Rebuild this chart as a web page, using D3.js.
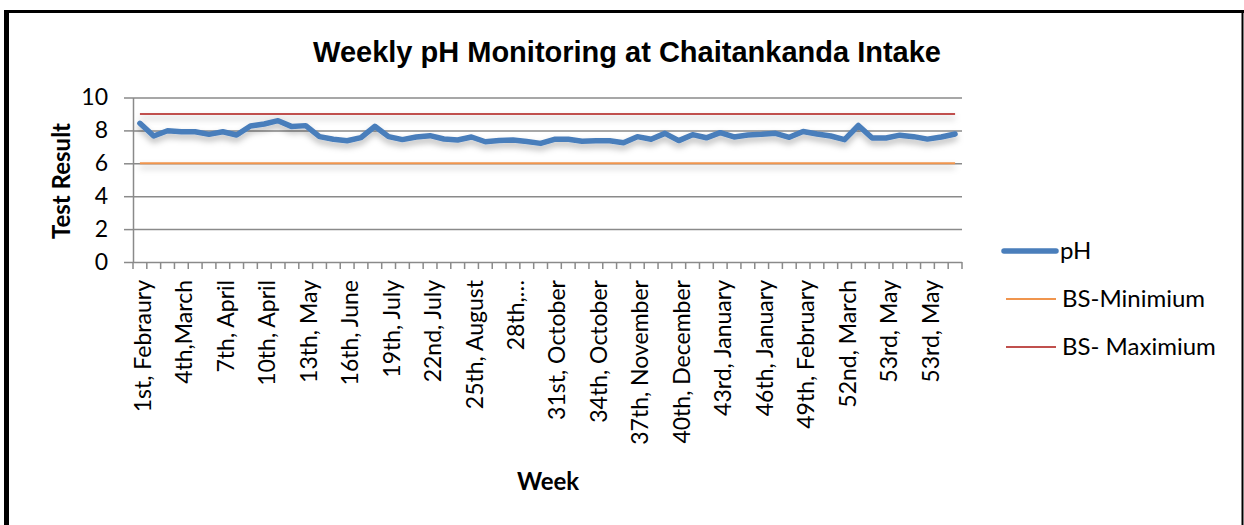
<!DOCTYPE html>
<html>
<head>
<meta charset="utf-8">
<script src="https://cdn.jsdelivr.net/npm/d3@7"></script>
<style>
  body { margin: 0; background: #fff; }
  svg { display: block; }
  text { font-family: Lato, "Liberation Sans", sans-serif; fill: #000; }
</style>
</head>
<body>
<svg id="chart" width="1244" height="525"></svg>
<script>
// week categories (only every third one is printed on the axis)
const weeks = [
  "1st, Febraury", "2nd, Febraury", "3rd, Febraury", "4th,March", "5th, March", "6th, March",
  "7th, April", "8th, April", "9th, April", "10th, April", "11th, April", "12th, May",
  "13th, May", "14th, May", "15th, June", "16th, June", "17th, June", "18th, June",
  "19th, July", "20th, July", "21st, July", "22nd, July", "23rd, August", "24th, August",
  "25th, August", "26th, August", "27th, September", "28th, September", "29th, September", "30th, September",
  "31st, October", "32nd, October", "33rd, October", "34th, October", "35th, October", "36th, November",
  "37th, November", "38th, November", "39th, November", "40th, December", "41st, December", "42nd, December",
  "43rd, January", "44th, January", "45th, January", "46th, January", "47th, February", "48th, February",
  "49th, February", "50th, February", "51st, March", "52nd, March", "53rd, March", "53rd, April",
  "53rd, May", "53rd, May", "53rd, May", "53rd, May", "53rd, May", "53rd, May"
];

// weekly pH readings
const ph = [
  8.43, 7.66, 7.98, 7.92, 7.92, 7.76, 7.92, 7.72, 8.27, 8.39,
  8.59, 8.23, 8.29, 7.62, 7.46, 7.37, 7.56, 8.25, 7.62, 7.44,
  7.60, 7.68, 7.48, 7.42, 7.60, 7.31, 7.38, 7.42, 7.32, 7.21,
  7.46, 7.46, 7.34, 7.37, 7.37, 7.25, 7.62, 7.46, 7.82, 7.38,
  7.74, 7.55, 7.86, 7.60, 7.72, 7.76, 7.82, 7.58, 7.93, 7.78,
  7.66, 7.44, 8.30, 7.54, 7.54, 7.71, 7.62, 7.47, 7.60, 7.78
];

// Bangladesh standard limits
const bsMinimum = 6;
const bsMaximum = 9;

const yTicks = [0, 2, 4, 6, 8, 10];

const legendItems = [
  { name: "pH", color: "#4A7EBB", width: 5.5 },
  { name: "BS-Minimium", color: "#F0954E", width: 2 },
  { name: "BS- Maximium", color: "#C0504D", width: 2 }
];

const svg = d3.select("#chart");
const axisColor = "#8a8a8a";

const x = d3.scaleBand()
  .domain(d3.range(weeks.length))
  .range([133, 962]);

const y = d3.scaleLinear()
  .domain([0, 10])
  .range([262, 97.5]);

// drop shadow like the excel line effect
const defs = svg.append("defs");
defs.append("filter")
  .attr("id", "shadow")
  .attr("filterUnits", "userSpaceOnUse")
  .attr("x", 0).attr("y", 0).attr("width", 1244).attr("height", 525)
  .append("feDropShadow")
  .attr("dx", 0).attr("dy", 4)
  .attr("stdDeviation", 3)
  .attr("flood-color", "#000")
  .attr("flood-opacity", 0.28);

// outer frame (bottom edge is off the picture)
const frame = svg.append("g").attr("stroke", "#000").attr("fill", "none");
frame.append("line").attr("x1", 6.5).attr("x2", 6.5).attr("y1", 10).attr("y2", 525).attr("stroke-width", 5);
frame.append("line").attr("x1", 4).attr("x2", 1244).attr("y1", 11.5).attr("y2", 11.5).attr("stroke-width", 3);
frame.append("line").attr("x1", 1242.5).attr("x2", 1242.5).attr("y1", 10).attr("y2", 525).attr("stroke-width", 2);

// title
svg.append("text")
  .attr("x", 627)
  .attr("y", 62)
  .attr("text-anchor", "middle")
  .style("font-family", "'Liberation Sans', Arial, sans-serif")
  .style("font-weight", "bold")
  .style("font-size", "29px")
  .text("Weekly pH Monitoring at Chaitankanda Intake");

// gridlines
svg.append("g")
  .attr("transform", `translate(${x.range()[0]},0)`)
  .call(d3.axisLeft(y).tickValues(yTicks).tickSize(-(x.range()[1] - x.range()[0])).tickFormat(""))
  .call(g => g.select(".domain").remove())
  .call(g => g.selectAll("line").attr("stroke", axisColor).attr("stroke-width", 1.5));

// y axis
svg.append("g")
  .attr("transform", `translate(${x.range()[0]},0)`)
  .call(d3.axisLeft(y).tickValues(yTicks).tickSize(9).tickPadding(16).tickSizeOuter(0))
  .call(g => g.select(".domain").attr("stroke", axisColor).attr("stroke-width", 1.5))
  .call(g => g.selectAll("line").attr("stroke", axisColor).attr("stroke-width", 1.5))
  .call(g => g.selectAll("text").style("font-size", "23px").style("font-family", "Lato, sans-serif"));

// x axis tick marks at category boundaries
const bounds = d3.range(weeks.length + 1).map(i => i < weeks.length ? x(i) : x.range()[1]);
svg.append("g")
  .selectAll("line")
  .data(bounds)
  .join("line")
  .attr("x1", d => d).attr("x2", d => d)
  .attr("y1", y(0)).attr("y2", y(0) + 7)
  .attr("stroke", axisColor)
  .attr("stroke-width", 1.5);

// x axis labels, every third week
const shortLabel = s => s.length > 14 ? s.split(" ")[0] + "\u2026" : s;
svg.append("g")
  .selectAll("text")
  .data(d3.range(0, weeks.length, 3))
  .join("text")
  .attr("transform", i => `translate(${x(i) + x.bandwidth() / 2},${y(0)}) rotate(-90)`)
  .attr("x", -18)
  .attr("y", 3)
  .attr("dy", "0.35em")
  .attr("text-anchor", "end")
  .style("font-size", "23px")
  .text(i => shortLabel(weeks[i]));

// axis titles
svg.append("text")
  .attr("transform", "translate(62,181) rotate(-90)")
  .attr("text-anchor", "middle")
  .attr("dy", "0.35em")
  .style("font-weight", "bold")
  .style("font-size", "24px")
  .text("Test Result");

svg.append("text")
  .attr("x", 548)
  .attr("y", 482)
  .attr("dy", "0.35em")
  .attr("text-anchor", "middle")
  .style("font-weight", "bold")
  .style("font-size", "24px")
  .text("Week");

// series
const cx = i => x(i) + x.bandwidth() / 2;
const first = 0, last = weeks.length - 1;

const limitLine = d3.line().x(d => cx(d[0])).y(d => y(d[1]));

svg.append("path")
  .attr("d", limitLine([[first, bsMinimum], [last, bsMinimum]]))
  .attr("stroke", legendItems[1].color)
  .attr("stroke-width", 2)
  .attr("fill", "none")
  .attr("filter", "url(#shadow)");

svg.append("path")
  .attr("d", limitLine([[first, bsMaximum], [last, bsMaximum]]))
  .attr("stroke", legendItems[2].color)
  .attr("stroke-width", 2)
  .attr("fill", "none")
  .attr("filter", "url(#shadow)");

svg.append("path")
  .datum(ph)
  .attr("d", d3.line().x((d, i) => cx(i)).y(d => y(d)))
  .attr("stroke", legendItems[0].color)
  .attr("stroke-width", 5.5)
  .attr("stroke-linejoin", "round")
  .attr("stroke-linecap", "round")
  .attr("fill", "none")
  .attr("filter", "url(#shadow)");

// legend
const legend = svg.append("g")
  .selectAll("g")
  .data(legendItems)
  .join("g")
  .attr("transform", (d, i) => `translate(1004,${251 + i * 48})`);

legend.append("line")
  .attr("x1", d => d.width > 2 ? 0 : 2)
  .attr("x2", 52)
  .attr("stroke", d => d.color)
  .attr("stroke-width", d => d.width)
  .attr("stroke-linecap", d => d.width > 2 ? "round" : "butt");

legend.append("text")
  .attr("x", d => d.width > 2 ? 56 : 58)
  .attr("dy", "0.35em")
  .style("font-size", "24px")
  .text(d => d.name);
</script>
</body>
</html>
